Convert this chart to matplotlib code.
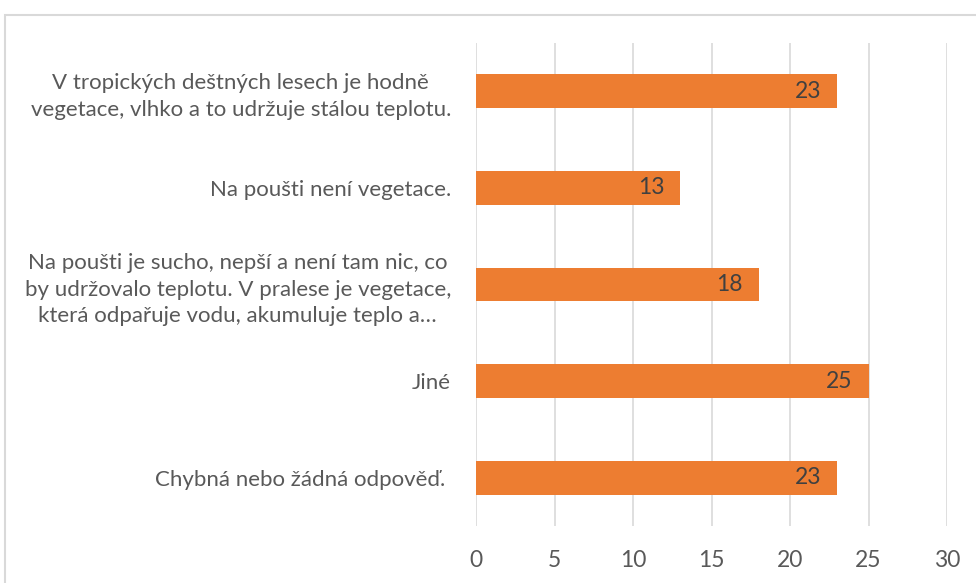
import matplotlib
matplotlib.use("Agg")
import matplotlib.pyplot as plt
from matplotlib.patches import Rectangle

categories = [
    "V tropických deštných lesech je hodně\nvegetace, vlhko a to udržuje stálou teplotu.",
    "Na poušti není vegetace.",
    "Na poušti je sucho, nepší a není tam nic, co\nby udržovalo teplotu. V pralese je vegetace,\nkterá odpařuje vodu, akumuluje teplo a…",
    "Jiné",
    "Chybná nebo žádná odpověď. ",
]
values = [23, 13, 18, 25, 23]
xticks = [0, 5, 10, 15, 20, 25, 30]

plt.rcParams['font.family'] = ['Lato', 'DejaVu Sans']

fig = plt.figure(figsize=(9.76, 5.83), dpi=100)
ax = fig.add_axes([476/976, 1 - 526/583, (947-476)/976, (526-43)/583])

y = list(range(len(categories)))
bars = ax.barh(y, values, height=0.35, color='#ED7D31', zorder=3)
ax.set_ylim(len(categories) - 0.5, -0.5)
ax.set_xlim(0, 30)
ax.set_xticks(xticks)
ax.set_xticklabels([str(t) for t in xticks])
ax.set_yticks(y)
ax.set_yticklabels(categories, multialignment='center', linespacing=1.4)
ax.tick_params(axis='y', length=0, pad=18, labelsize=16, labelcolor='#595959')
ax.tick_params(axis='x', length=0, pad=17, labelsize=16.5, labelcolor='#595959')
ax.grid(axis='x', color='#D9D9D9', linewidth=1.2, zorder=0)
for s in ax.spines.values():
    s.set_visible(False)

for b, v in zip(bars, values):
    ax.text(b.get_width() - 1.0, b.get_y() + b.get_height()/2, str(v),
            ha='right', va='center', fontsize=16.5, color='#404040', zorder=4)

top = 1 - 14.5/583
border = Rectangle((4.5/976, -0.2), 1.2, top + 0.2, transform=fig.transFigure,
                   fill=False, edgecolor='#D9D9D9', linewidth=1.5)
fig.patches.append(border)

fig.savefig('out.png', dpi=100)
